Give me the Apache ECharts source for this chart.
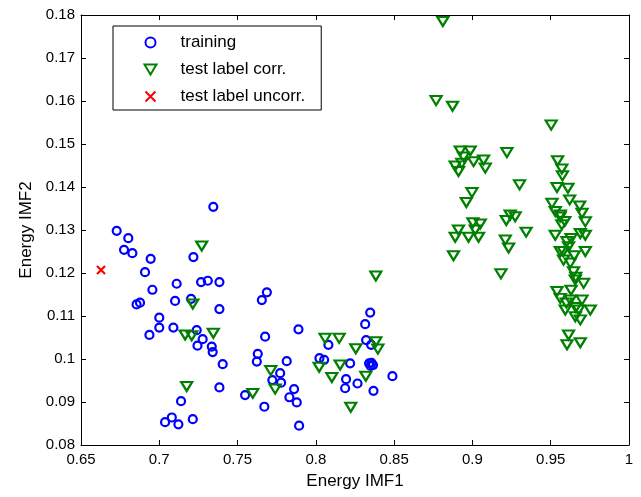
<!DOCTYPE html>
<html>
<head>
<meta charset="utf-8">
<script src="https://cdn.jsdelivr.net/npm/echarts@6/dist/echarts.min.js"></script>
<style>
  html, body { margin: 0; padding: 0; background: #fff; }
  #chart { width: 641px; height: 497px; }
</style>
</head>
<body>
<div id="chart"></div>
<script>
// values
const training = [
  [0.7345, 0.1354], [0.6728, 0.1298], [0.6802, 0.1281], [0.6775, 0.1254],
  [0.6828, 0.1246], [0.6945, 0.1233], [0.6909, 0.1202], [0.7218, 0.1237],
  [0.7111, 0.1175], [0.7267, 0.1179], [0.7310, 0.1182], [0.7384, 0.1179],
  [0.6956, 0.1161], [0.6855, 0.1127], [0.6877, 0.1131], [0.7101, 0.1135],
  [0.7203, 0.1140], [0.7384, 0.1116], [0.7000, 0.1096], [0.7000, 0.1073],
  [0.6937, 0.1056], [0.7090, 0.1073], [0.7239, 0.1067], [0.7277, 0.1046],
  [0.7244, 0.1031], [0.7335, 0.1029], [0.7341, 0.1016], [0.7405, 0.0988],
  [0.7384, 0.0934], [0.7139, 0.0902], [0.7037, 0.0853], [0.7080, 0.0864],
  [0.7122, 0.0848], [0.7214, 0.0860], [0.7548, 0.0916], [0.7687, 0.1155],
  [0.7655, 0.1137], [0.7889, 0.1069], [0.7676, 0.1052], [0.7629, 0.1012],
  [0.7623, 0.0994], [0.7814, 0.0995], [0.7772, 0.0967], [0.7722, 0.0951],
  [0.7778, 0.0945], [0.7861, 0.0930], [0.7831, 0.0911], [0.7878, 0.0899],
  [0.7671, 0.0889], [0.7893, 0.0845], [0.8347, 0.1108], [0.8315, 0.1081],
  [0.8321, 0.1044], [0.8353, 0.1033], [0.8080, 0.1033], [0.8023, 0.1002],
  [0.8053, 0.0998], [0.8219, 0.0990], [0.8340, 0.0990], [0.8355, 0.0991],
  [0.8365, 0.0986], [0.8350, 0.0984], [0.8193, 0.0953], [0.8187, 0.0932],
  [0.8266, 0.0943], [0.8368, 0.0926], [0.8489, 0.0960]
];

const testCorr = [
  [0.7271, 0.1263], [0.7214, 0.1128], [0.7165, 0.1056], [0.7207, 0.1054],
  [0.7345, 0.1060], [0.7175, 0.0936], [0.7597, 0.0920], [0.7712, 0.0973],
  [0.7740, 0.0930], [0.8383, 0.1193], [0.8059, 0.1048], [0.8149, 0.1048],
  [0.8255, 0.1024], [0.8383, 0.1040], [0.8396, 0.1023], [0.8021, 0.0981],
  [0.8155, 0.0986], [0.8102, 0.0957], [0.8319, 0.0960], [0.8223, 0.0888],
  [0.8811, 0.1785], [0.8768, 0.1601], [0.8873, 0.1588], [0.9220, 0.1480],
  [0.9301, 0.1405], [0.8922, 0.1484], [0.8986, 0.1484], [0.8943, 0.1470],
  [0.9007, 0.1459], [0.8890, 0.1449], [0.8911, 0.1436], [0.8932, 0.1455],
  [0.9071, 0.1463], [0.9082, 0.1444], [0.8997, 0.1387], [0.8961, 0.1364],
  [0.9003, 0.1317], [0.9050, 0.1314], [0.8911, 0.1300], [0.8890, 0.1283],
  [0.8975, 0.1283], [0.9039, 0.1283], [0.9018, 0.1300], [0.8879, 0.1240],
  [0.9241, 0.1335], [0.9273, 0.1331], [0.9216, 0.1322], [0.9343, 0.1295],
  [0.9210, 0.1277], [0.9231, 0.1258], [0.9182, 0.1198], [0.9503, 0.1544],
  [0.9544, 0.1461], [0.9571, 0.1442], [0.9575, 0.1426], [0.9540, 0.1399],
  [0.9610, 0.1397], [0.9508, 0.1362], [0.9621, 0.1370], [0.9685, 0.1356],
  [0.9529, 0.1343], [0.9561, 0.1335], [0.9700, 0.1339], [0.9721, 0.1319],
  [0.9571, 0.1312], [0.9529, 0.1288], [0.9689, 0.1292], [0.9721, 0.1288],
  [0.9604, 0.1273], [0.9614, 0.1261], [0.9721, 0.1250], [0.9561, 0.1250],
  [0.9582, 0.1230], [0.9625, 0.1223], [0.9646, 0.1203], [0.9657, 0.1184],
  [0.9710, 0.1176], [0.9540, 0.1157], [0.9561, 0.1141], [0.9625, 0.1137],
  [0.9700, 0.1137], [0.9593, 0.1114], [0.9678, 0.1114], [0.9753, 0.1114],
  [0.9657, 0.1098], [0.9689, 0.1091], [0.9614, 0.1056], [0.9604, 0.1033],
  [0.9689, 0.1038], [0.9560, 0.1330], [0.9590, 0.1320], [0.9630, 0.1280],
  [0.9650, 0.1240], [0.9580, 0.1250], [0.9660, 0.1190], [0.9630, 0.1160],
  [0.9600, 0.1130], [0.9660, 0.1120]
];

const testUncorr = [[0.6628, 0.1207]];

const xMin = 0.65, xMax = 1, xStep = 0.05;
const yMin = 0.08, yMax = 0.18, yStep = 0.01;

const font = "'Liberation Sans', Arial, sans-serif";

const boxAxis = (pos, extra) => Object.assign({
  type: "value",
  position: pos,
  axisLine: { show: true, onZero: false, lineStyle: { color: "#000", width: 1 } },
  axisTick: { show: true, inside: true, length: 5, lineStyle: { color: "#000" } },
  axisLabel: { show: false },
  splitLine: { show: false },
}, extra);

const chart = echarts.init(document.getElementById("chart"));
chart.setOption({
  animation: false,
  backgroundColor: "#fff",
  grid: { left: 81, right: 12, top: 15, bottom: 52 },
  xAxis: [
    boxAxis("bottom", {
      min: xMin, max: xMax, interval: xStep,
      axisLabel: { show: true, color: "#000", fontSize: 15, fontFamily: font, margin: 7 },
      name: "Energy IMF1",
      nameLocation: "middle",
      nameGap: 28,
      nameTextStyle: { color: "#000", fontSize: 17, fontFamily: font },
    }),
    boxAxis("top", { min: xMin, max: xMax, interval: xStep }),
  ],
  yAxis: [
    boxAxis("left", {
      min: yMin, max: yMax, interval: yStep,
      axisLabel: { show: true, color: "#000", fontSize: 15, fontFamily: font, margin: 6 },
      name: "Energy IMF2",
      nameLocation: "middle",
      nameGap: 45,
      nameTextStyle: { color: "#000", fontSize: 17, fontFamily: font },
    }),
    boxAxis("right", { min: yMin, max: yMax, interval: yStep }),
  ],
  legend: {
    orient: "vertical",
    left: 113,
    top: 26,
    padding: [8, 16, 5, 29],
    itemGap: 10,
    itemWidth: 12,
    itemHeight: 10,
    borderColor: "#000",
    borderWidth: 1,
    backgroundColor: "#fff",
    textStyle: { color: "#000", fontSize: 17, fontFamily: font, padding: [0, 0, 0, 19] },
    data: ["training", "test label corr.", "test label uncorr."],
  },
  series: [
    {
      name: "training",
      type: "scatter",
      symbol: "circle",
      symbolSize: 8,
      itemStyle: { color: "none", borderColor: "#0000ff", borderWidth: 2.2, opacity: 1 },
      data: training,
    },
    {
      name: "test label corr.",
      type: "scatter",
      symbol: "path://M0,0L12,0L6,10Z",
      symbolSize: [11, 9],
      itemStyle: { color: "none", borderColor: "#008000", borderWidth: 2.2, opacity: 1 },
      data: testCorr,
    },
    {
      name: "test label uncorr.",
      type: "scatter",
      symbol: "path://M0,0L10,10M10,0L0,10",
      symbolSize: 8,
      itemStyle: { color: "none", borderColor: "#ff0000", borderWidth: 2.2, opacity: 1 },
      data: testUncorr,
    },
  ],
});
</script>
</body>
</html>
